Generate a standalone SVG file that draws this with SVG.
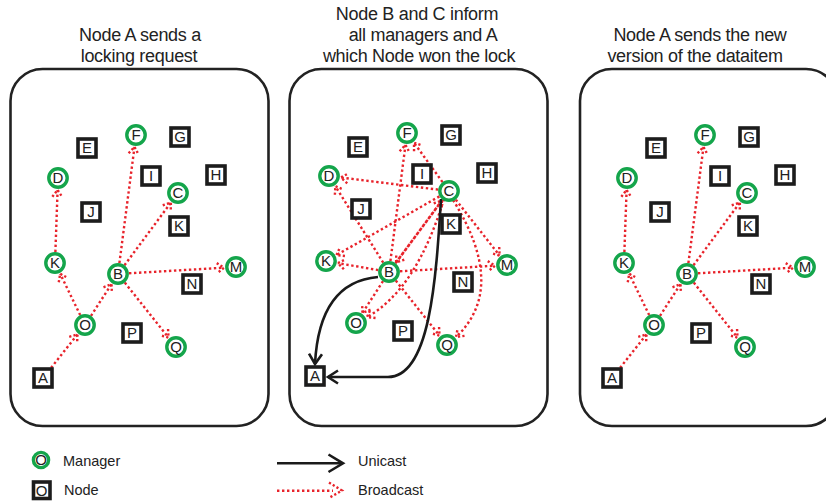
<svg xmlns="http://www.w3.org/2000/svg" width="826" height="502" viewBox="0 0 826 502">
  <style>
    .panel { fill: none; stroke: #222; stroke-width: 2.6; }
    .title { font-family: "Liberation Sans", Arial, sans-serif; font-size: 18px; letter-spacing: -0.3px; fill: #222; text-anchor: middle; }
    .mgr circle { fill: #fff; stroke: #14a54b; stroke-width: 3.4; }
    .node rect { fill: #fff; stroke: #1c1c1c; stroke-width: 3.6; }
    .mgr text, .node text { font-family: "Liberation Sans", Arial, sans-serif; font-size: 15px; fill: #222; text-anchor: middle; }
    .bc { fill: none; stroke: #e8232b; stroke-width: 2.4; stroke-dasharray: 2.4 2.6; marker-end: url(#bcHead); }
    .uc { fill: none; stroke: #1a1a1a; stroke-width: 2.6; marker-end: url(#ucHead); }
    .legend { font-family: "Liberation Sans", Arial, sans-serif; font-size: 14.5px; fill: #222; }
  </style>
  <defs>
    <marker id="bcHead" markerUnits="userSpaceOnUse" orient="auto" markerWidth="20" markerHeight="20" viewBox="-10 -10 20 20" refX="0" refY="0" overflow="visible">
      <path d="M-7,-5 L0,0 L-7,5" fill="none" stroke="#e8232b" stroke-width="2.4" stroke-dasharray="2.2 2.2"/>
    </marker>
    <marker id="ucHead" markerUnits="userSpaceOnUse" orient="auto" markerWidth="24" markerHeight="24" viewBox="-12 -12 24 24" refX="0" refY="0" overflow="visible">
      <path d="M-10,-6.5 L0,0 L-10,6.5" fill="none" stroke="#1a1a1a" stroke-width="2.6"/>
    </marker>
  </defs>

  <rect width="826" height="502" fill="#fff"/>

  <!-- panel frames and captions -->
  <g id="frames">
    <rect class="panel" x="10.5" y="69" width="258" height="357" rx="32"/>
    <rect class="panel" x="289.5" y="69" width="258" height="357" rx="32"/>
    <rect class="panel" x="580" y="69" width="258" height="357" rx="32"/>
  </g>
  <g id="captions">
    <text class="title" x="140" y="41">Node A sends a</text>
    <text class="title" x="139" y="62">locking request</text>
    <text class="title" x="417" y="20">Node B and C inform</text>
    <text class="title" x="423" y="41">all managers and A</text>
    <text class="title" x="419" y="62">which Node won the lock</text>
    <text class="title" x="700" y="41">Node A sends the new</text>
    <text class="title" x="695" y="62">version of the dataitem</text>
  </g>

  <!-- connectors -->
  <g id="connectors">
    <g id="edges-1">
      <path class="bc" d="M51.1,367.8 L77.5,334.4"/>
      <path class="bc" d="M80.2,315.1 L60.2,273.8"/>
      <path class="bc" d="M91,315.8 L111.5,284.1"/>
      <path class="bc" d="M55.4,252 L57.6,190"/>
      <path class="bc" d="M119.4,263.1 L134.5,146.9"/>
      <path class="bc" d="M124.5,265.2 L170.9,202.6"/>
      <path class="bc" d="M129,273.3 L224,267.7"/>
      <path class="bc" d="M124.8,282.6 L168.5,337.6"/>
    </g>
    <g id="edges-2">
      <!-- broadcasts from B -->
      <path class="bc" d="M390.4,261.1 L405.5,144.9"/>
      <path class="bc" d="M383.2,262.7 L335.4,186.2"/>
      <path class="bc" d="M395.5,263.2 L441.9,200.6"/>
      <path class="bc" d="M378.2,270.1 L337.8,263.1"/>
      <path class="bc" d="M400,271.3 L495,265.7"/>
      <path class="bc" d="M383,281.2 L362.5,312.9"/>
      <path class="bc" d="M395.8,280.6 L439.5,335.6"/>
      <!-- broadcasts from C -->
      <path class="bc" d="M442.5,182.1 L414,142.7"/>
      <path class="bc" d="M438.1,189.6 L340.9,177.5"/>
      <path class="bc" d="M442.5,199.8 L396.1,262.4"/>
      <path class="bc" d="M439.4,196.4 L336.4,255.1"/>
      <path class="bc" d="M455.8,199.7 L499.6,255.6"/>
      <path class="bc" d="M444,199 Q416,290 367,317"/>
      <path class="bc" d="M453,200 Q508,288 456,337"/>
      <!-- unicasts to A -->
      <path class="uc" d="M378,277 C342,280 318,305 315,364"/>
      <path class="uc" d="M441,199 C436,280 430,377 388,377 L328,377"/>
    </g>
    <g id="edges-3" transform="translate(569,0)">
      <path class="bc" d="M51.1,367.8 L77.5,334.4"/>
      <path class="bc" d="M80.2,315.1 L60.2,273.8"/>
      <path class="bc" d="M91,315.8 L111.5,284.1"/>
      <path class="bc" d="M55.4,252 L57.6,190"/>
      <path class="bc" d="M119.4,263.1 L134.5,146.9"/>
      <path class="bc" d="M124.5,265.2 L170.9,202.6"/>
      <path class="bc" d="M129,273.3 L224,267.7"/>
      <path class="bc" d="M124.8,282.6 L168.5,337.6"/>
    </g>
  </g>

  <!-- panel 1 nodes -->
  <g id="panel-1">
    <g id="p1-F" class="mgr"><circle cx="136" cy="135" r="9.2"/><text x="136" y="140.3">F</text></g>
    <g id="p1-D" class="mgr"><circle cx="58" cy="178" r="9.2"/><text x="58" y="183.3">D</text></g>
    <g id="p1-C" class="mgr"><circle cx="178" cy="193" r="9.2"/><text x="178" y="198.3">C</text></g>
    <g id="p1-K-mgr" class="mgr"><circle cx="55" cy="263" r="9.2"/><text x="55" y="268.3">K</text></g>
    <g id="p1-B" class="mgr"><circle cx="118" cy="274" r="9.2"/><text x="118" y="279.3">B</text></g>
    <g id="p1-M" class="mgr"><circle cx="236" cy="267" r="9.2"/><text x="236" y="272.3">M</text></g>
    <g id="p1-O" class="mgr"><circle cx="85" cy="325" r="9.2"/><text x="85" y="330.3">O</text></g>
    <g id="p1-Q" class="mgr"><circle cx="176" cy="347" r="9.2"/><text x="176" y="352.3">Q</text></g>
    <g id="p1-E" class="node"><rect x="78" y="139" width="18" height="18"/><text x="87" y="153.3">E</text></g>
    <g id="p1-G" class="node"><rect x="171" y="128" width="18" height="18"/><text x="180" y="142.3">G</text></g>
    <g id="p1-I" class="node"><rect x="142" y="167" width="18" height="18"/><text x="151" y="181.3">I</text></g>
    <g id="p1-H" class="node"><rect x="207" y="166" width="18" height="18"/><text x="216" y="180.3">H</text></g>
    <g id="p1-J" class="node"><rect x="82" y="203" width="18" height="18"/><text x="91" y="217.3">J</text></g>
    <g id="p1-K-node" class="node"><rect x="170" y="217" width="18" height="18"/><text x="179" y="231.3">K</text></g>
    <g id="p1-N" class="node"><rect x="183" y="275" width="18" height="18"/><text x="192" y="289.3">N</text></g>
    <g id="p1-P" class="node"><rect x="123" y="324" width="18" height="18"/><text x="132" y="338.3">P</text></g>
    <g id="p1-A" class="node"><rect x="34" y="369" width="18" height="18"/><text x="43" y="383.3">A</text></g>
  </g>

  <!-- panel 2 nodes -->
  <g id="panel-2">
    <g id="p2-F" class="mgr"><circle cx="407" cy="133" r="9.2"/><text x="407" y="138.3">F</text></g>
    <g id="p2-D" class="mgr"><circle cx="329" cy="176" r="9.2"/><text x="329" y="181.3">D</text></g>
    <g id="p2-C" class="mgr"><circle cx="449" cy="191" r="9.2"/><text x="449" y="196.3">C</text></g>
    <g id="p2-K-mgr" class="mgr"><circle cx="326" cy="261" r="9.2"/><text x="326" y="266.3">K</text></g>
    <g id="p2-B" class="mgr"><circle cx="389" cy="272" r="9.2"/><text x="389" y="277.3">B</text></g>
    <g id="p2-M" class="mgr"><circle cx="507" cy="265" r="9.2"/><text x="507" y="270.3">M</text></g>
    <g id="p2-O" class="mgr"><circle cx="356" cy="323" r="9.2"/><text x="356" y="328.3">O</text></g>
    <g id="p2-Q" class="mgr"><circle cx="447" cy="345" r="9.2"/><text x="447" y="350.3">Q</text></g>
    <g id="p2-E" class="node"><rect x="349" y="138" width="18" height="18"/><text x="358" y="152.3">E</text></g>
    <g id="p2-G" class="node"><rect x="442" y="126" width="18" height="18"/><text x="451" y="140.3">G</text></g>
    <g id="p2-I" class="node"><rect x="413" y="165" width="18" height="18"/><text x="422" y="179.3">I</text></g>
    <g id="p2-H" class="node"><rect x="478" y="164" width="18" height="18"/><text x="487" y="178.3">H</text></g>
    <g id="p2-J" class="node"><rect x="352" y="200" width="18" height="18"/><text x="361" y="214.3">J</text></g>
    <g id="p2-K-node" class="node"><rect x="442" y="215" width="18" height="18"/><text x="451" y="229.3">K</text></g>
    <g id="p2-N" class="node"><rect x="454" y="273" width="18" height="18"/><text x="463" y="287.3">N</text></g>
    <g id="p2-P" class="node"><rect x="394" y="322" width="18" height="18"/><text x="403" y="336.3">P</text></g>
    <g id="p2-A" class="node"><rect x="306" y="367" width="18" height="18"/><text x="315" y="381.3">A</text></g>
  </g>

  <!-- panel 3 nodes (same layout as panel 1) -->
  <g id="panel-3" transform="translate(569,0)">
    <g id="p3-F" class="mgr"><circle cx="136" cy="135" r="9.2"/><text x="136" y="140.3">F</text></g>
    <g id="p3-D" class="mgr"><circle cx="58" cy="178" r="9.2"/><text x="58" y="183.3">D</text></g>
    <g id="p3-C" class="mgr"><circle cx="178" cy="193" r="9.2"/><text x="178" y="198.3">C</text></g>
    <g id="p3-K-mgr" class="mgr"><circle cx="55" cy="263" r="9.2"/><text x="55" y="268.3">K</text></g>
    <g id="p3-B" class="mgr"><circle cx="118" cy="274" r="9.2"/><text x="118" y="279.3">B</text></g>
    <g id="p3-M" class="mgr"><circle cx="236" cy="267" r="9.2"/><text x="236" y="272.3">M</text></g>
    <g id="p3-O" class="mgr"><circle cx="85" cy="325" r="9.2"/><text x="85" y="330.3">O</text></g>
    <g id="p3-Q" class="mgr"><circle cx="176" cy="347" r="9.2"/><text x="176" y="352.3">Q</text></g>
    <g id="p3-E" class="node"><rect x="78" y="139" width="18" height="18"/><text x="87" y="153.3">E</text></g>
    <g id="p3-G" class="node"><rect x="171" y="128" width="18" height="18"/><text x="180" y="142.3">G</text></g>
    <g id="p3-I" class="node"><rect x="142" y="167" width="18" height="18"/><text x="151" y="181.3">I</text></g>
    <g id="p3-H" class="node"><rect x="207" y="166" width="18" height="18"/><text x="216" y="180.3">H</text></g>
    <g id="p3-J" class="node"><rect x="82" y="203" width="18" height="18"/><text x="91" y="217.3">J</text></g>
    <g id="p3-K-node" class="node"><rect x="170" y="217" width="18" height="18"/><text x="179" y="231.3">K</text></g>
    <g id="p3-N" class="node"><rect x="183" y="275" width="18" height="18"/><text x="192" y="289.3">N</text></g>
    <g id="p3-P" class="node"><rect x="123" y="324" width="18" height="18"/><text x="132" y="338.3">P</text></g>
    <g id="p3-A" class="node"><rect x="34" y="369" width="18" height="18"/><text x="43" y="383.3">A</text></g>
  </g>

  <!-- legend -->
  <g id="legend">
    <g id="legend-manager" class="mgr"><circle cx="41" cy="460" r="7.6"/><text x="41" y="465.2">O</text></g>
    <text class="legend" x="63" y="466">Manager</text>
    <g id="legend-node" class="node"><rect x="33.5" y="482" width="16.5" height="16.5"/><text x="41.7" y="495.5">O</text></g>
    <text class="legend" x="64" y="495">Node</text>
    <path d="M277,463.3 H342" fill="none" stroke="#1a1a1a" stroke-width="2.6"/>
    <path d="M328.5,454.5 L343,463.3 L328.5,472" fill="none" stroke="#1a1a1a" stroke-width="2.6"/>
    <text class="legend" x="358" y="466">Unicast</text>
    <path d="M277,490.7 H333" fill="none" stroke="#e8232b" stroke-width="2.4" stroke-dasharray="2.4 2.6"/>
    <path d="M329,482.5 L342,490.5 L329,498" fill="none" stroke="#e8232b" stroke-width="2.4" stroke-dasharray="2.2 2.2"/>
    <text class="legend" x="358" y="495">Broadcast</text>
  </g>
</svg>
